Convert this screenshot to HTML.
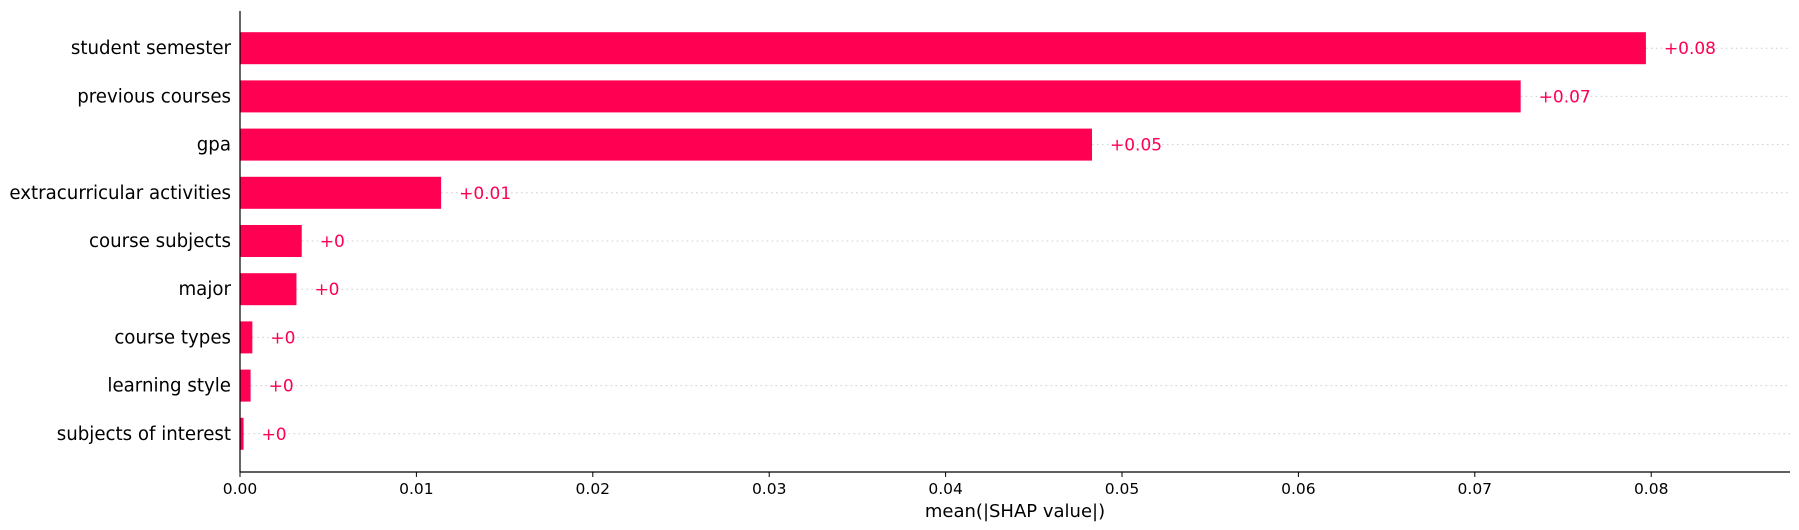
<!DOCTYPE html>
<html><head><meta charset="utf-8"><style>
html,body{margin:0;padding:0;background:#fff}
svg{display:block;font-family:"DejaVu Sans","Liberation Sans",sans-serif}
</style></head><body>
<svg id="chart" width="1799" height="530" viewBox="0 0 1799 530"></svg>
<script>
const features = ["student semester","previous courses","gpa","extracurricular activities","course subjects","major","course types","learning style","subjects of interest"];
const values = [0.0797,0.0726,0.0483,0.0114,0.0035,0.0032,0.0007,0.0006,0.0002];
const valueLabels = ["+0.08","+0.07","+0.05","+0.01","+0","+0","+0","+0","+0"];
const xTicks = [0,0.01,0.02,0.03,0.04,0.05,0.06,0.07,0.08];
const xTickLabels = ["0.00","0.01","0.02","0.03","0.04","0.05","0.06","0.07","0.08"];

const NS="http://www.w3.org/2000/svg";
const svg=document.getElementById('chart');
const x0=240, pxPer=17640, axisRight=1790, axisBottom=472, axisTop=11;
const rowTop=48.2, rowStep=48.2, barH=32;
function X(v){return x0+v*pxPer;}
function Y(i){return rowTop+i*rowStep;}
function mk(tag,attrs){const e=document.createElementNS(NS,tag);for(const k in attrs)e.setAttribute(k,attrs[k]);svg.appendChild(e);return e;}

features.forEach((f,i)=>{
  const y=Y(i);
  const g=mk('line',{x1:X(values[i]),x2:axisRight,y1:y,y2:y,stroke:'#cccccc','stroke-width':1,'stroke-dasharray':'1.5,3.5'});
  
  
  const b=mk('rect',{x:x0,y:y-barH/2,width:X(values[i])-x0,height:barH,fill:'#ff0052'});
  
  
  const vl=mk('text',{x:X(values[i])+18,y:y+6,fill:'#ff0052','font-size':17});
  vl.textContent=valueLabels[i];
  
  
  const fl=mk('text',{x:231,y:y+6,fill:'#000','font-size':18.2,'text-anchor':'end'});
  fl.textContent=f;
  
  
});

const ya=mk('line',{x1:x0,x2:x0,y1:axisTop,y2:axisBottom,stroke:'#000','stroke-width':1.2});


const xa=mk('line',{x1:x0,x2:axisRight,y1:axisBottom,y2:axisBottom,stroke:'#000','stroke-width':1.2});


xTicks.forEach((t,i)=>{
  const tk=mk('line',{x1:X(t),x2:X(t),y1:axisBottom,y2:axisBottom+5,stroke:'#000','stroke-width':1});
  
  
  const tl=mk('text',{x:X(t),y:494,'font-size':15.5,'text-anchor':'middle',fill:'#000'});
  tl.textContent=xTickLabels[i];
  
  
});
const xt=mk('text',{x:1015,y:517,'font-size':18,'text-anchor':'middle',fill:'#000'});
xt.textContent='mean(|SHAP value|)';


</script>
</body></html>
